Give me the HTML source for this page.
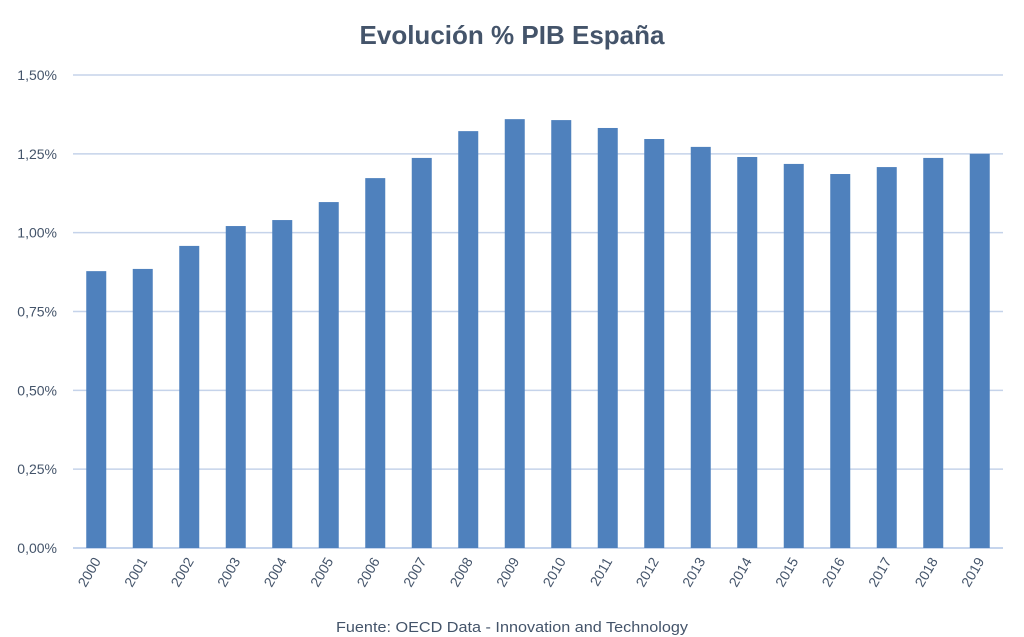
<!DOCTYPE html>
<html><head><meta charset="utf-8"><style>
body{margin:0;background:#fff;}
svg{display:block;font-family:"Liberation Sans",sans-serif;}
</style></head><body>
<svg id="chart" width="1024" height="637" viewBox="0 0 1024 637">
<text x="512" y="44" text-anchor="middle" font-size="26" font-weight="bold" fill="#44546a" textLength="305" lengthAdjust="spacingAndGlyphs">Evolución % PIB España</text>
<g id="grid"></g><g id="bars"></g><g id="ylabels"></g><g id="xlabels"></g>
<text x="512" y="632" text-anchor="middle" font-size="15" fill="#44546a" textLength="352" lengthAdjust="spacingAndGlyphs">Fuente: OECD Data - Innovation and Technology</text>
</svg>
<script>
const years=["2000","2001","2002","2003","2004","2005","2006","2007","2008","2009","2010","2011","2012","2013","2014","2015","2016","2017","2018","2019"];
const values=[0.878,0.885,0.958,1.021,1.040,1.097,1.173,1.237,1.322,1.360,1.357,1.332,1.297,1.272,1.240,1.218,1.186,1.208,1.237,1.250];
const yTicks=[0,0.25,0.5,0.75,1.0,1.25,1.5];
const yTickLabels=["0,00%","0,25%","0,50%","0,75%","1,00%","1,25%","1,50%"];
const NS="http://www.w3.org/2000/svg";
const L=73,R=1003,T=75,B=548,yMax=1.5;
const y=v=>B-(v/yMax)*(B-T);
const slot=(R-L)/years.length;
const x=i=>L+slot*(i+0.5);
function mk(tag,attrs,parent){const e=document.createElementNS(NS,tag);for(const k in attrs)e.setAttribute(k,attrs[k]);parent.appendChild(e);return e;}
const g=document.getElementById('grid'),b=document.getElementById('bars'),yl=document.getElementById('ylabels'),xl=document.getElementById('xlabels');
yTicks.forEach((t,i)=>{
 const ln=mk('line',{x1:L,x2:R,y1:y(t),y2:y(t),stroke:i===0?'#b4c7e7':'#c5d3ea','stroke-width':1.5},g);
 
 
 const tx=mk('text',{x:57,y:y(t)+5,'text-anchor':'end','font-size':14,fill:'#44546a'},yl);
 tx.textContent=yTickLabels[i];
 
 
});
values.forEach((v,i)=>{
 const r=mk('rect',{x:x(i)-10,y:y(v),width:20,height:B-y(v),fill:'#4f81bd'},b);
 
 
 const tx=mk('text',{transform:`translate(${x(i)+5},${B+13}) rotate(-60)`,'text-anchor':'end','font-size':14,fill:'#44546a'},xl);
 tx.textContent=years[i];
 
 
});
</script>
</body></html>
